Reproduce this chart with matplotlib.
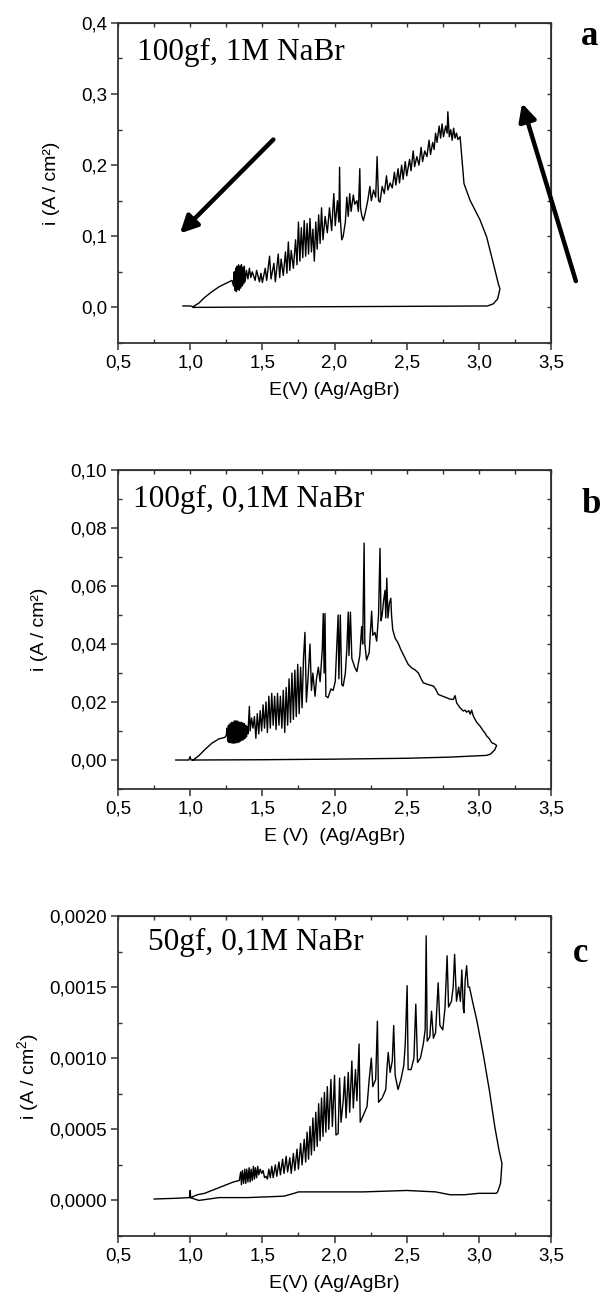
import matplotlib
matplotlib.use("Agg")
import matplotlib.pyplot as plt
from matplotlib.ticker import MultipleLocator

plt.rcParams["font.family"] = ["Liberation Sans", "DejaVu Sans"]
plt.rcParams["mathtext.default"] = "regular"

# ---- data: (E in V, i in A/cm2) ----
TRACE_A = [
    (0.95, 0.002), (1.00, 0.002), (1.02, 0.001), (1.06, 0.006), (1.10, 0.014),
    (1.15, 0.022), (1.20, 0.029), (1.25, 0.034), (1.29, 0.038),
    (1.300, 0.030), (1.305, 0.050), (1.310, 0.024), (1.315, 0.055), (1.320, 0.022),
    (1.325, 0.058), (1.330, 0.025), (1.335, 0.060), (1.340, 0.024), (1.345, 0.058),
    (1.350, 0.027), (1.355, 0.060), (1.360, 0.030), (1.365, 0.056), (1.370, 0.033),
    (1.375, 0.058), (1.380, 0.036), (1.39, 0.052), (1.40, 0.040), (1.41, 0.055),
    (1.42, 0.042), (1.43, 0.050), (1.45, 0.038), (1.46, 0.052), (1.48, 0.036),
    (1.49, 0.048), (1.50, 0.035), (1.52, 0.055), (1.53, 0.038), (1.55, 0.072),
    (1.56, 0.040), (1.58, 0.062), (1.59, 0.036), (1.61, 0.075), (1.62, 0.042),
    (1.63, 0.068), (1.645, 0.045), (1.66, 0.078), (1.67, 0.048), (1.68, 0.092),
    (1.69, 0.052), (1.70, 0.080), (1.715, 0.055), (1.73, 0.095), (1.74, 0.060),
    (1.75, 0.120), (1.76, 0.065), (1.77, 0.112), (1.78, 0.070), (1.79, 0.122),
    (1.80, 0.072), (1.81, 0.118), (1.82, 0.075), (1.83, 0.125), (1.84, 0.078),
    (1.85, 0.110), (1.86, 0.065), (1.87, 0.120), (1.88, 0.082), (1.89, 0.130),
    (1.90, 0.090), (1.91, 0.140), (1.92, 0.095), (1.935, 0.128), (1.95, 0.105),
    (1.965, 0.140), (1.98, 0.108), (1.995, 0.160), (2.005, 0.115), (2.02, 0.150),
    (2.03, 0.120), (2.035, 0.197), (2.04, 0.125), (2.05, 0.095), (2.06, 0.100),
    (2.075, 0.120), (2.085, 0.155), (2.095, 0.128), (2.105, 0.160), (2.115, 0.135),
    (2.13, 0.158), (2.14, 0.145), (2.155, 0.150), (2.165, 0.135), (2.175, 0.195),
    (2.18, 0.140), (2.19, 0.128), (2.20, 0.122), (2.215, 0.135), (2.23, 0.150),
    (2.245, 0.170), (2.255, 0.150), (2.27, 0.165), (2.285, 0.155), (2.295, 0.212),
    (2.305, 0.150), (2.315, 0.148), (2.33, 0.170), (2.345, 0.160), (2.36, 0.185),
    (2.37, 0.165), (2.385, 0.175), (2.40, 0.168), (2.415, 0.190), (2.425, 0.172),
    (2.44, 0.195), (2.45, 0.175), (2.465, 0.200), (2.475, 0.180), (2.49, 0.205),
    (2.50, 0.185), (2.52, 0.208), (2.53, 0.192), (2.545, 0.220), (2.555, 0.198),
    (2.57, 0.212), (2.585, 0.200), (2.60, 0.225), (2.61, 0.205), (2.625, 0.220),
    (2.64, 0.212), (2.655, 0.235), (2.665, 0.215), (2.68, 0.232), (2.69, 0.222),
    (2.70, 0.245), (2.71, 0.232), (2.725, 0.255), (2.735, 0.238), (2.745, 0.258),
    (2.755, 0.240), (2.77, 0.255), (2.78, 0.245), (2.785, 0.275), (2.795, 0.240),
    (2.805, 0.250), (2.815, 0.235), (2.825, 0.252), (2.835, 0.238), (2.845, 0.245),
    (2.855, 0.236), (2.87, 0.240), (2.897, 0.174), (2.938, 0.151), (3.008, 0.123),
    (3.054, 0.099), (3.10, 0.062), (3.135, 0.033), (3.146, 0.026), (3.13, 0.012),
    (3.10, 0.005), (3.06, 0.002), (2.5, 0.0015), (2.0, 0.001), (1.5, 0.0005),
    (1.02, 0.0),
]

TRACE_B = [
    (0.90, 0.0), (0.99, 0.0), (1.00, 0.0012), (1.005, 0.0), (1.02, 0.0),
    (1.06, 0.0015), (1.10, 0.0035), (1.15, 0.0058), (1.20, 0.0073), (1.24, 0.0078),
    (1.25, 0.0085), (1.255, 0.011), (1.26, 0.0065), (1.265, 0.012), (1.27, 0.006),
    (1.275, 0.0125), (1.28, 0.006), (1.285, 0.013), (1.29, 0.0058), (1.295, 0.013),
    (1.30, 0.0058), (1.305, 0.0135), (1.31, 0.0058), (1.315, 0.0135), (1.32, 0.006),
    (1.325, 0.0135), (1.33, 0.006), (1.335, 0.0132), (1.34, 0.0062), (1.345, 0.013),
    (1.35, 0.0065), (1.355, 0.013), (1.36, 0.0068), (1.365, 0.0128), (1.37, 0.007),
    (1.375, 0.0125), (1.38, 0.0075), (1.385, 0.012), (1.39, 0.008), (1.395, 0.0115),
    (1.40, 0.009), (1.41, 0.0185), (1.415, 0.010), (1.425, 0.0145), (1.435, 0.011),
    (1.445, 0.015), (1.455, 0.0075), (1.465, 0.016), (1.475, 0.009), (1.485, 0.017),
    (1.495, 0.010), (1.505, 0.019), (1.515, 0.011), (1.525, 0.020), (1.535, 0.0095),
    (1.545, 0.022), (1.555, 0.011), (1.565, 0.023), (1.575, 0.012), (1.585, 0.022),
    (1.595, 0.0105), (1.605, 0.023), (1.615, 0.012), (1.625, 0.022), (1.635, 0.011),
    (1.645, 0.024), (1.655, 0.0095), (1.665, 0.025), (1.675, 0.012), (1.685, 0.028),
    (1.695, 0.013), (1.705, 0.030), (1.715, 0.014), (1.725, 0.031), (1.735, 0.015),
    (1.745, 0.033), (1.755, 0.016), (1.765, 0.032), (1.775, 0.018), (1.785, 0.035),
    (1.795, 0.044), (1.805, 0.020), (1.815, 0.027), (1.83, 0.040), (1.84, 0.024),
    (1.85, 0.030), (1.865, 0.022), (1.875, 0.028), (1.888, 0.032), (1.90, 0.027),
    (1.915, 0.038), (1.922, 0.0505), (1.928, 0.030), (1.934, 0.0505), (1.94, 0.022),
    (1.955, 0.0215), (1.975, 0.0245), (1.99, 0.024), (2.005, 0.027), (2.025, 0.050),
    (2.03, 0.028), (2.04, 0.050), (2.05, 0.026), (2.06, 0.0255), (2.075, 0.030),
    (2.085, 0.038), (2.095, 0.051), (2.10, 0.036), (2.11, 0.051), (2.12, 0.035),
    (2.14, 0.032), (2.155, 0.0305), (2.175, 0.036), (2.188, 0.046), (2.195, 0.040),
    (2.205, 0.0748), (2.21, 0.040), (2.222, 0.0345), (2.24, 0.037), (2.257, 0.0513),
    (2.265, 0.043), (2.28, 0.044), (2.292, 0.041), (2.305, 0.050), (2.315, 0.073),
    (2.322, 0.048), (2.33, 0.050), (2.34, 0.055), (2.35, 0.0585), (2.355, 0.049),
    (2.362, 0.0627), (2.37, 0.049), (2.38, 0.054), (2.39, 0.0558), (2.395, 0.050),
    (2.403, 0.045), (2.42, 0.042), (2.44, 0.0404), (2.46, 0.038), (2.488, 0.0352),
    (2.51, 0.033), (2.534, 0.0318), (2.56, 0.031), (2.581, 0.030), (2.60, 0.028),
    (2.615, 0.0266), (2.65, 0.026), (2.685, 0.0255), (2.70, 0.0245), (2.719, 0.0226),
    (2.76, 0.0218), (2.80, 0.021), (2.823, 0.0209), (2.835, 0.0222), (2.846, 0.0197),
    (2.87, 0.018), (2.892, 0.0169), (2.905, 0.0172), (2.915, 0.0165), (2.93, 0.017),
    (2.94, 0.0158), (2.95, 0.0172), (2.962, 0.0151), (2.985, 0.013), (3.008, 0.0117),
    (3.031, 0.010), (3.04, 0.0095), (3.054, 0.0083), (3.07, 0.0075), (3.089, 0.006),
    (3.11, 0.0055), (3.123, 0.0050), (3.11, 0.0035), (3.10, 0.003), (3.08, 0.002),
    (3.054, 0.0016), (2.8, 0.001), (2.5, 0.0006), (2.0, 0.0003), (1.5, 0.0001),
    (1.02, 0.0),
]

TRACE_C = [
    (0.75, 0.00001), (0.90, 0.000015), (0.995, 0.00002), (1.0, 0.00007), (1.003, 0.00002),
    (1.05, 0.00004), (1.10, 0.00005), (1.20, 0.00009), (1.30, 0.00013), (1.34, 0.00014),
    (1.35, 0.00020), (1.355, 0.00011), (1.362, 0.00021), (1.37, 0.00012), (1.378, 0.00022),
    (1.385, 0.00012), (1.392, 0.00022), (1.40, 0.00013), (1.408, 0.00023), (1.415, 0.00013),
    (1.422, 0.00022), (1.43, 0.00014), (1.438, 0.00024), (1.445, 0.00015), (1.452, 0.00023),
    (1.46, 0.00016), (1.468, 0.00024), (1.475, 0.00018), (1.485, 0.00022), (1.495, 0.00019),
    (1.505, 0.00021), (1.515, 0.00016), (1.525, 0.00017), (1.535, 0.00015), (1.545, 0.00022),
    (1.555, 0.00016), (1.565, 0.00024), (1.575, 0.00016), (1.59, 0.00025), (1.60, 0.00017),
    (1.615, 0.00027), (1.625, 0.00018), (1.64, 0.00029), (1.65, 0.00019), (1.665, 0.00031),
    (1.675, 0.00020), (1.69, 0.00030), (1.70, 0.00019), (1.715, 0.00033), (1.725, 0.00021),
    (1.74, 0.00036), (1.75, 0.00022), (1.765, 0.00040), (1.775, 0.00025), (1.79, 0.00043),
    (1.80, 0.00027), (1.81, 0.00048), (1.82, 0.00029), (1.83, 0.00052), (1.84, 0.00032),
    (1.85, 0.00058), (1.86, 0.00035), (1.87, 0.00062), (1.88, 0.00038), (1.89, 0.00068),
    (1.90, 0.00042), (1.91, 0.00072), (1.92, 0.00045), (1.93, 0.00076), (1.94, 0.00048),
    (1.95, 0.00080), (1.96, 0.00050), (1.975, 0.00085), (1.985, 0.00052), (2.0, 0.00088),
    (2.01, 0.00046), (2.025, 0.00047), (2.035, 0.00086), (2.045, 0.00055), (2.06, 0.00070),
    (2.07, 0.00087), (2.08, 0.00058), (2.095, 0.00090), (2.105, 0.00062), (2.12, 0.00098),
    (2.13, 0.00065), (2.145, 0.00092), (2.155, 0.00070), (2.17, 0.00110), (2.178, 0.00055),
    (2.20, 0.00060), (2.225, 0.00066), (2.24, 0.00085), (2.255, 0.00100), (2.265, 0.00080),
    (2.285, 0.00085), (2.297, 0.00126), (2.305, 0.00069), (2.33, 0.00072), (2.355, 0.00078),
    (2.365, 0.00095), (2.372, 0.00104), (2.385, 0.00090), (2.40, 0.00098), (2.41, 0.00123),
    (2.42, 0.00088), (2.44, 0.00078), (2.46, 0.00085), (2.48, 0.00095), (2.49, 0.00110),
    (2.503, 0.00151), (2.51, 0.00092), (2.53, 0.00092), (2.55, 0.00100), (2.563, 0.00138),
    (2.575, 0.00097), (2.595, 0.00100), (2.615, 0.00110), (2.628, 0.00120), (2.635, 0.00186),
    (2.642, 0.00112), (2.66, 0.00115), (2.672, 0.00133), (2.685, 0.00114), (2.70, 0.00118),
    (2.718, 0.00153), (2.73, 0.00123), (2.75, 0.00120), (2.765, 0.00135), (2.78, 0.00172),
    (2.79, 0.00136), (2.81, 0.00140), (2.822, 0.00150), (2.832, 0.00173), (2.845, 0.00140),
    (2.86, 0.00150), (2.872, 0.00140), (2.882, 0.00162), (2.892, 0.00135), (2.897, 0.00132),
    (2.905, 0.00155), (2.915, 0.00165), (2.925, 0.00150), (2.935, 0.00150), (2.96, 0.00138),
    (2.985, 0.00127), (3.03, 0.00103), (3.075, 0.00076), (3.11, 0.00052), (3.14, 0.00035),
    (3.16, 0.00026), (3.15, 0.00012), (3.13, 0.00006), (3.12, 0.00005), (3.0, 0.00005),
    (2.9, 0.00004), (2.8, 0.00004), (2.7, 0.00006), (2.5, 0.00007), (2.2, 0.00006),
    (1.9, 0.00006), (1.75, 0.00006), (1.72, 0.00005), (1.65, 0.00003), (1.4, 0.00002),
    (1.2, 0.00002), (1.06, 0.0), (1.03, 0.00001), (1.0, 0.00002),
]

XTICKS = [0.5, 1.0, 1.5, 2.0, 2.5, 3.0, 3.5]
XTICK_LABELS = ["0,5", "1,0", "1,5", "2,0", "2,5", "3,0", "3,5"]

YTICKS_A = [0.0, 0.1, 0.2, 0.3, 0.4]
YLABELS_A = ["0,0", "0,1", "0,2", "0,3", "0,4"]
YTICKS_B = [0.0, 0.02, 0.04, 0.06, 0.08, 0.10]
YLABELS_B = ["0,00", "0,02", "0,04", "0,06", "0,08", "0,10"]
YTICKS_C = [0.0, 0.0005, 0.0010, 0.0015, 0.0020]
YLABELS_C = ["0,0000", "0,0005", "0,0010", "0,0015", "0,0020"]

NOTES = ["100gf, 1M NaBr", "100gf, 0,1M NaBr", "50gf, 0,1M NaBr"]
LETTERS = ["a", "b", "c"]
XLABELS = ["E(V) (Ag/AgBr)", "E (V)  (Ag/AgBr)", "E(V) (Ag/AgBr)"]
YLABELS = ["i (A / cm²)", "i (A / cm²)", "i (A / cm$^2$)"]

SPINE = "#333333"


def style_axes(ax, ylim, yticks, ylabels, yminor, xlabel, ylabel, ypad):
    ax.set_xlim(0.5, 3.5)
    ax.set_ylim(*ylim)
    ax.set_xticks(XTICKS)
    ax.set_xticklabels(XTICK_LABELS)
    ax.set_yticks(yticks)
    ax.set_yticklabels(ylabels)
    ax.xaxis.set_minor_locator(MultipleLocator(0.25))
    ax.yaxis.set_minor_locator(MultipleLocator(yminor))
    ax.tick_params(which="major", direction="out", length=5, width=1.1,
                   labelsize=13.5, color=SPINE, pad=3)
    ax.tick_params(which="minor", direction="in", length=3, width=1.0, color=SPINE)
    for sp in ax.spines.values():
        sp.set_color(SPINE)
        sp.set_linewidth(1.3)

    # inward ticks on the top and right frame
    top = ax.secondary_xaxis("top")
    top.set_xticks(XTICKS)
    top.xaxis.set_minor_locator(MultipleLocator(0.25))
    top.tick_params(which="both", direction="in", length=3, width=1.0,
                    labeltop=False, color=SPINE)
    right = ax.secondary_yaxis("right")
    right.set_yticks(yticks)
    right.yaxis.set_minor_locator(MultipleLocator(yminor))
    right.tick_params(which="both", direction="in", length=3, width=1.0,
                      labelright=False, color=SPINE)

    ax.set_xlabel(xlabel, fontsize=14, labelpad=8)
    ax.set_ylabel(ylabel, fontsize=14, labelpad=ypad)


fig = plt.figure(figsize=(6.0, 13.02), dpi=100)

panels = [
    ([0.1967, 0.7366, 0.7217, 0.2458], TRACE_A, (-0.05, 0.4), YTICKS_A, YLABELS_A, 0.05,
     (0.044, 0.884), (0.983, 0.9654), 15),
    ([0.1967, 0.3940, 0.7217, 0.2450], TRACE_B, (-0.01, 0.10), YTICKS_B, YLABELS_B, 0.01,
     (0.035, 0.884), (0.985, 0.606), 16),
    ([0.1967, 0.0507, 0.7217, 0.2458], TRACE_C, (-0.00025, 0.0020), YTICKS_C, YLABELS_C, 0.00025,
     (0.069, 0.894), (0.968, 0.261), 6),
]

axes = []
for k, (rect, trace, ylim, yt, yl, ymin, note_pos, letter_pos, ypad) in enumerate(panels):
    ax = fig.add_axes(rect)
    e_vals = [p[0] for p in trace]
    i_vals = [p[1] for p in trace]
    ax.plot(e_vals, i_vals, color="black", lw=1.0)
    style_axes(ax, ylim, yt, yl, ymin, XLABELS[k], YLABELS[k], ypad)
    ax.text(note_pos[0], note_pos[1], NOTES[k], transform=ax.transAxes,
            family="Liberation Serif", fontsize=22.5, va="baseline", ha="left")
    fig.text(letter_pos[0], letter_pos[1], LETTERS[k], family="Liberation Serif",
             fontsize=25, fontweight="bold", ha="center", va="baseline")
    axes.append(ax)

# scan direction arrows in panel a
arrow_style = dict(arrowstyle="-|>", lw=3.2, color="black", mutation_scale=26,
                   shrinkA=0, shrinkB=0)
axes[0].annotate("", xy=(0.929, 0.104), xytext=(1.576, 0.236),
                 arrowprops=arrow_style, annotation_clip=False)
axes[0].annotate("", xy=(3.299, 0.287), xytext=(3.672, 0.037),
                 arrowprops=arrow_style, annotation_clip=False)

fig.savefig("out.png", dpi=100)
